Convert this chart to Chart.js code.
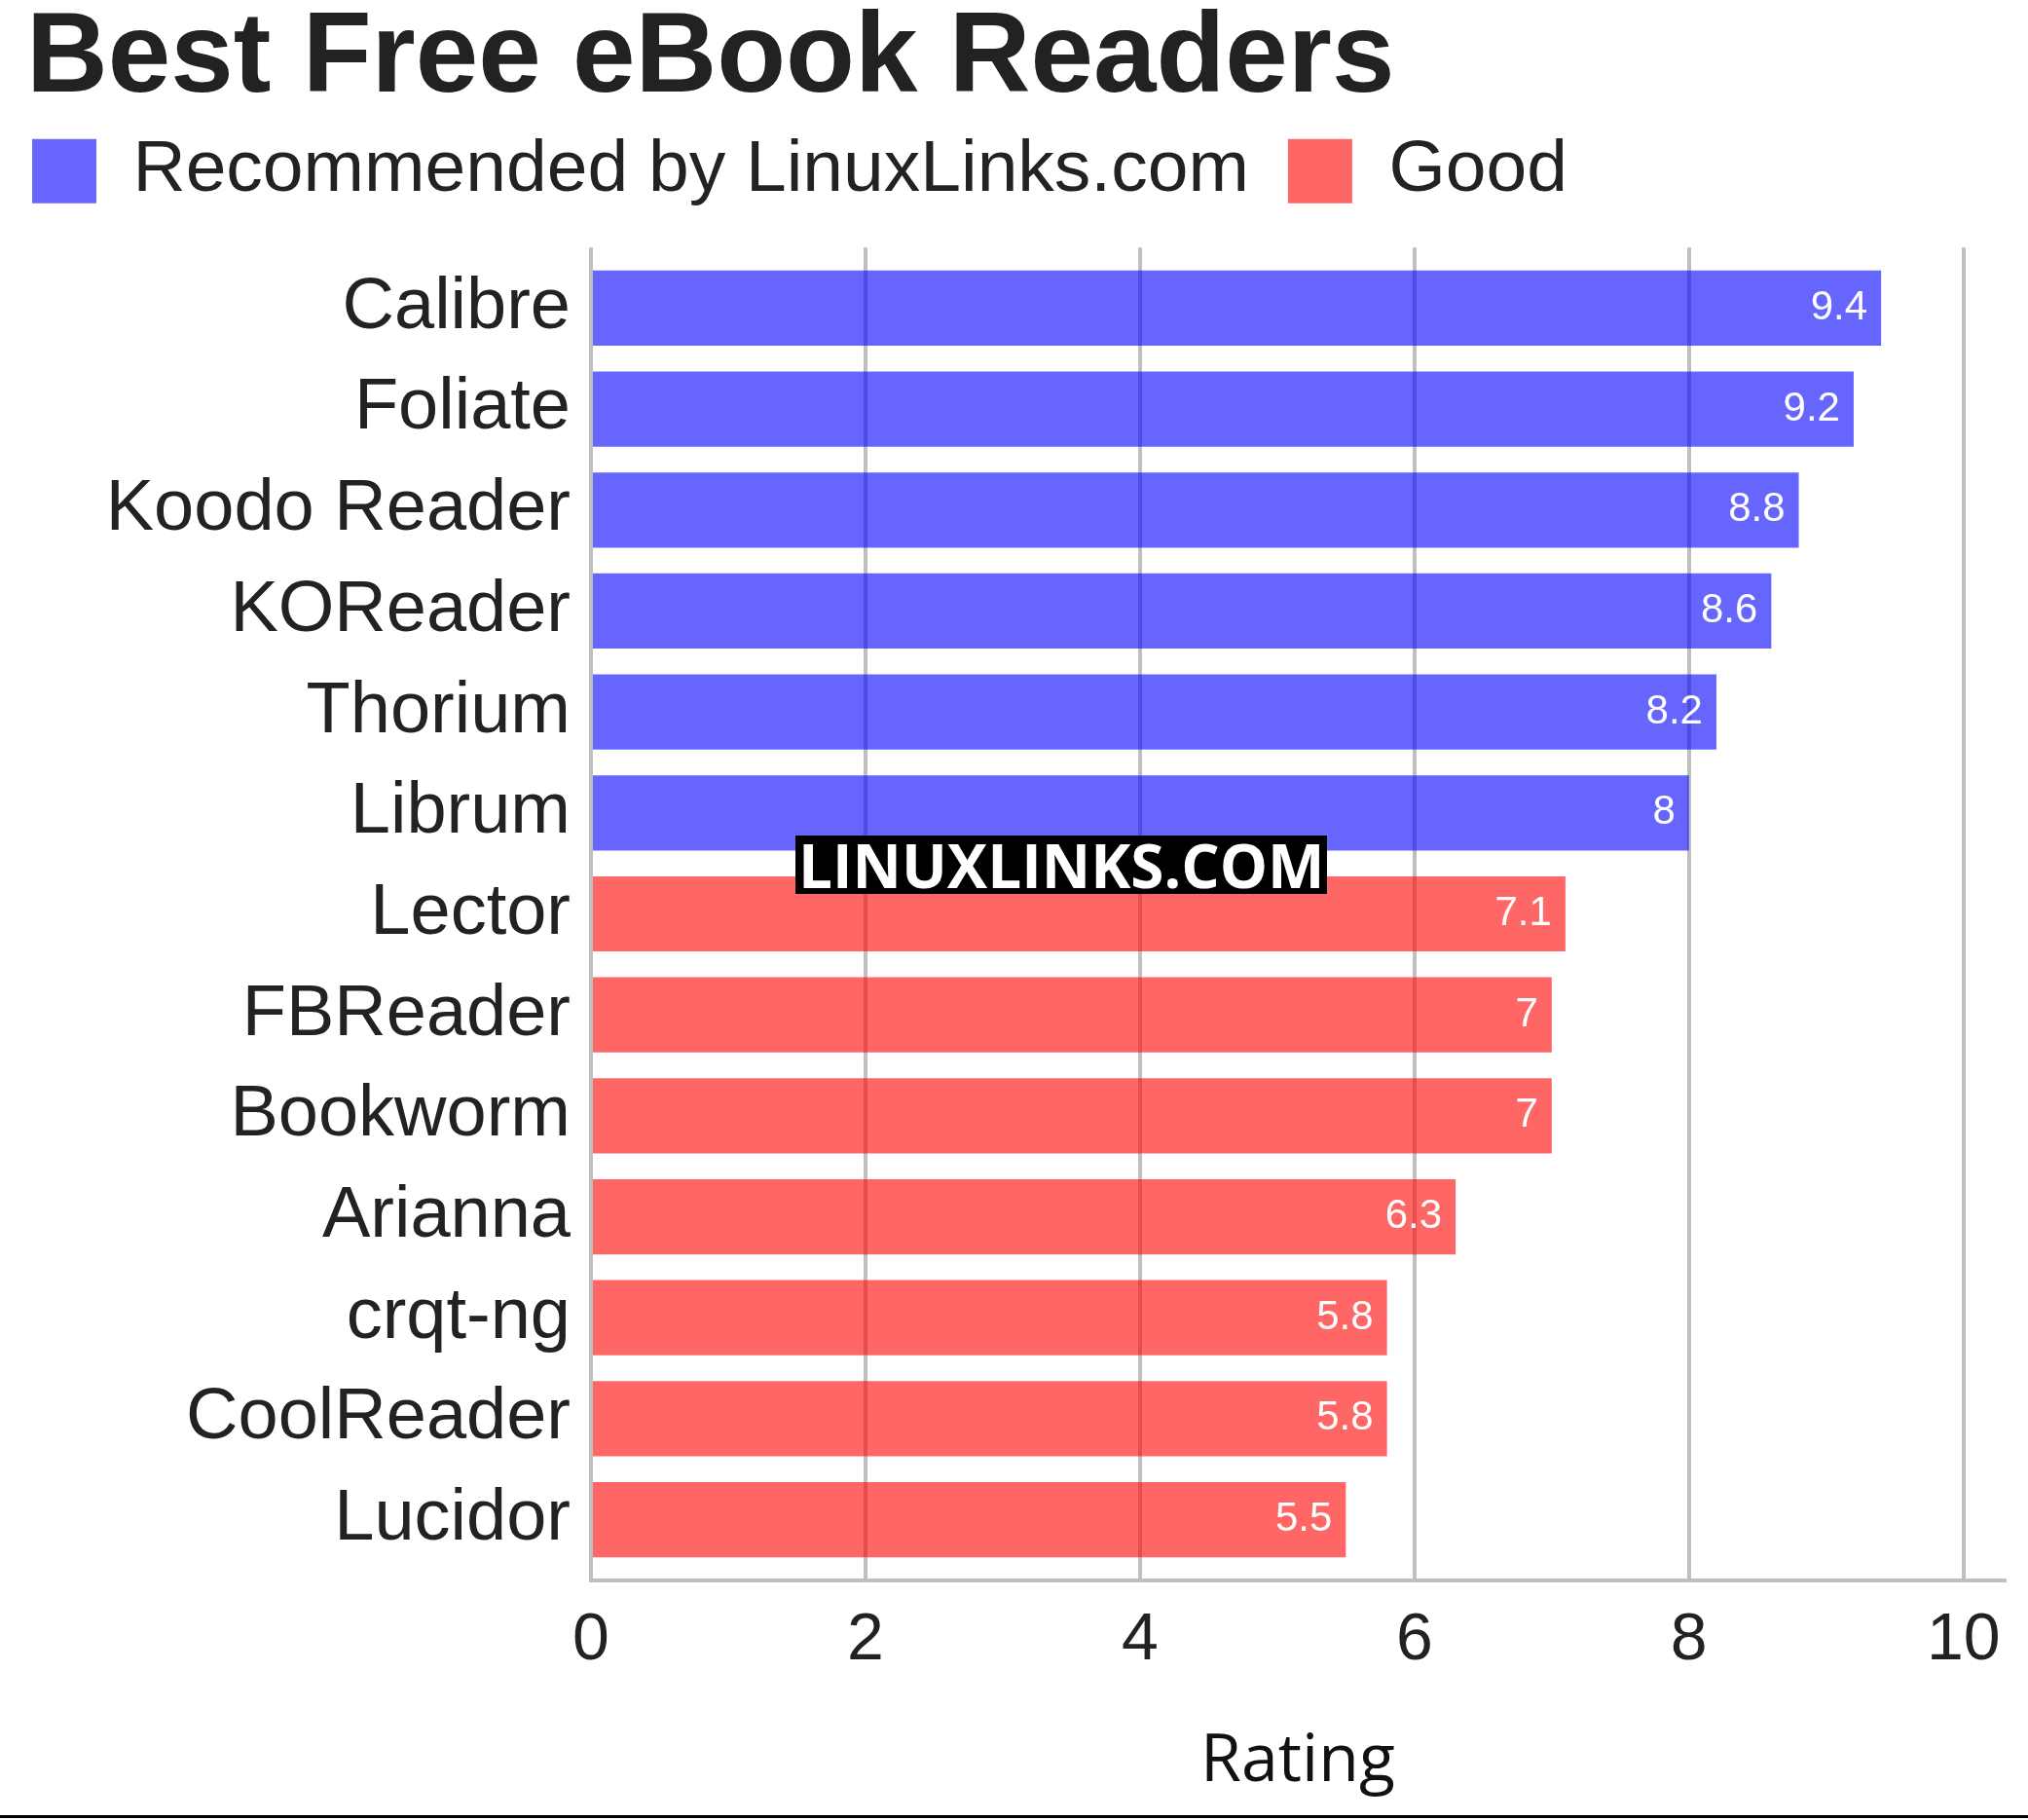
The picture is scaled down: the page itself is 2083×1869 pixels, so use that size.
<!DOCTYPE html><html><head><meta charset="utf-8">
<script src="https://cdn.jsdelivr.net/npm/chart.js@4"></script>
<style>body{margin:0;background:#fff}#w{position:relative;width:2083px;height:1869px}
#wm{position:absolute;left:817px;top:858px;background:#000;color:#fff;font:bold 62px "Open Sans";padding:0 3px;line-height:60px}
#bl{position:absolute;left:0;top:1864px;width:2083px;height:3px;background:#000}</style></head><body>
<div id="w"><canvas id="c" width="2083" height="1869"></canvas><div id="wm">LINUXLINKS.COM</div><div id="bl"></div></div>
<script>
const categories=["Calibre","Foliate","Koodo Reader","KOReader","Thorium","Librum","Lector","FBReader","Bookworm","Arianna","crqt-ng","CoolReader","Lucidor"];
const recommended=[9.4,9.2,8.8,8.6,8.2,8,null,null,null,null,null,null,null];
const good=[null,null,null,null,null,null,7.1,7,7,6.3,5.8,5.8,5.5];
const xTicks=[0,2,4,6,8,10];
const toPts=a=>a.map((v,i)=>v==null?null:{x:v,y:i}).filter(p=>p);
const valLabels={id:'vl',afterDatasetsDraw(ch){const ctx=ch.ctx;ctx.save();ctx.fillStyle='#fff';ctx.font='42px "Liberation Sans"';ctx.textAlign='right';ctx.textBaseline='middle';
ch.data.datasets.forEach((d,i)=>ch.getDatasetMeta(i).data.forEach((b,j)=>{ctx.fillText(String(d.data[j].x),b.x-14,b.y);}));ctx.restore();}};
const legendPad={id:'lp',beforeLayout(ch){const l=ch.legend;if(l&&!l._p){l._p=1;const f=l.fit;l.fit=function(){f.call(this);this.height+=31;};}},
afterLayout(ch){const l=ch.legend;if(l){l.left-=34;l.right-=34;}}};
new Chart(document.getElementById('c'),{type:'bar',data:{datasets:[
{label:'Recommended by LinuxLinks.com',data:toPts(recommended),backgroundColor:'rgba(0,0,255,0.6)'},
{label:'Good',data:toPts(good),backgroundColor:'rgba(255,0,0,0.6)'}]},
options:{indexAxis:'y',responsive:false,animation:false,grouped:false,barPercentage:0.745,categoryPercentage:1,
layout:{padding:{right:24,top:0,left:27,bottom:15}},
plugins:{title:{display:true,text:'Best Free eBook Readers',align:'start',color:'#222',font:{family:'Liberation Sans',size:116,weight:'bold'},padding:{top:-8,bottom:-33}},
legend:{align:'start',labels:{boxWidth:66,boxHeight:66,color:'#222',font:{family:'Liberation Sans',size:75},padding:40}},tooltip:{enabled:false}},
scales:{x:{type:'linear',min:0,max:10.3,afterBuildTicks(s){s.ticks=xTicks.map(v=>({value:v}));},
grid:{color:'rgba(0,0,0,0.25)',lineWidth:4,drawTicks:false},border:{color:'rgba(0,0,0,0.25)',width:4},
ticks:{color:'#222',font:{family:'Liberation Sans',size:68},padding:22},
title:{display:true,text:'Rating',color:'#111',font:{family:'Open Sans',size:68},padding:{top:20}}},
y:{type:'linear',reverse:true,offset:false,min:-0.6,max:categories.length-0.4,grid:{display:false},border:{display:false},
afterBuildTicks(s){s.ticks=categories.map((c,i)=>({value:i}));},afterFit(s){s.width=580;},
ticks:{callback:v=>categories[v],autoSkip:false,color:'#222',font:{family:'Liberation Sans',size:74},padding:13}}}},
plugins:[valLabels,legendPad]});
</script></body></html>
